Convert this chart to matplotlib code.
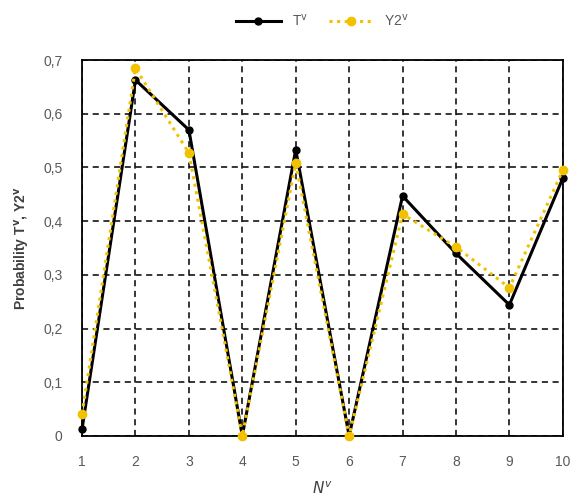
import matplotlib
matplotlib.use("Agg")
import matplotlib.pyplot as plt
from matplotlib.ticker import FuncFormatter

# data
n_v = [1, 2, 3, 4, 5, 6, 7, 8, 9, 10]
t_v = [0.013, 0.663, 0.570, 0.0, 0.533, 0.0, 0.447, 0.340, 0.244, 0.480]
y2_v = [0.041, 0.685, 0.527, 0.0, 0.508, 0.0, 0.413, 0.352, 0.276, 0.495]

YELLOW = "#f2c200"
GREY = "#595959"

plt.rcParams["font.family"] = ["Liberation Sans", "DejaVu Sans"]

fig = plt.figure(figsize=(5.82, 5.01), dpi=100)
ax = fig.add_axes([0.141, 0.130, 0.826, 0.750])

ax.plot(n_v, t_v, color="black", lw=2.2, marker="o", ms=5, label="T$^{\\mathrm{v}}$",
        zorder=3, clip_on=False)
ax.plot(n_v, y2_v, color=YELLOW, lw=2.2, ls=(0, (1, 1.5)), marker="o", ms=6,
        label="Y2$^{\\mathrm{v}}$", zorder=4, clip_on=False)

ax.set_xlim(1, 10)
ax.set_ylim(0, 0.7)
ax.set_xticks(n_v)
ax.set_yticks([0, 0.1, 0.2, 0.3, 0.4, 0.5, 0.6, 0.7])
ax.yaxis.set_major_formatter(FuncFormatter(lambda v, p: "0" if v == 0 else f"{v:.1f}".replace(".", ",")))
ax.grid(True, color="black", ls=(0, (4, 3)), lw=1.1)
ax.tick_params(axis="x", length=0, labelsize=10, colors=GREY, pad=14)
ax.tick_params(axis="y", length=0, labelsize=10, colors=GREY, pad=14)
for s in ax.spines.values():
    s.set_color("black")
    s.set_linewidth(1.3)

ax.set_xlabel("$\\boldsymbol{N^{v}}$", fontsize=11, color="#404040", labelpad=8)
ax.set_ylabel("Probability T$^{\\mathbf{v}}$, Y2$^{\\mathbf{v}}$", fontsize=10,
              fontweight="bold", color="#404040", labelpad=8)

ax.legend(loc="lower center", bbox_to_anchor=(0.5, 1.05), ncol=2, frameon=False,
          fontsize=10, handlelength=3.2, columnspacing=1.5, labelcolor=GREY)

fig.savefig("out.png", dpi=100)
